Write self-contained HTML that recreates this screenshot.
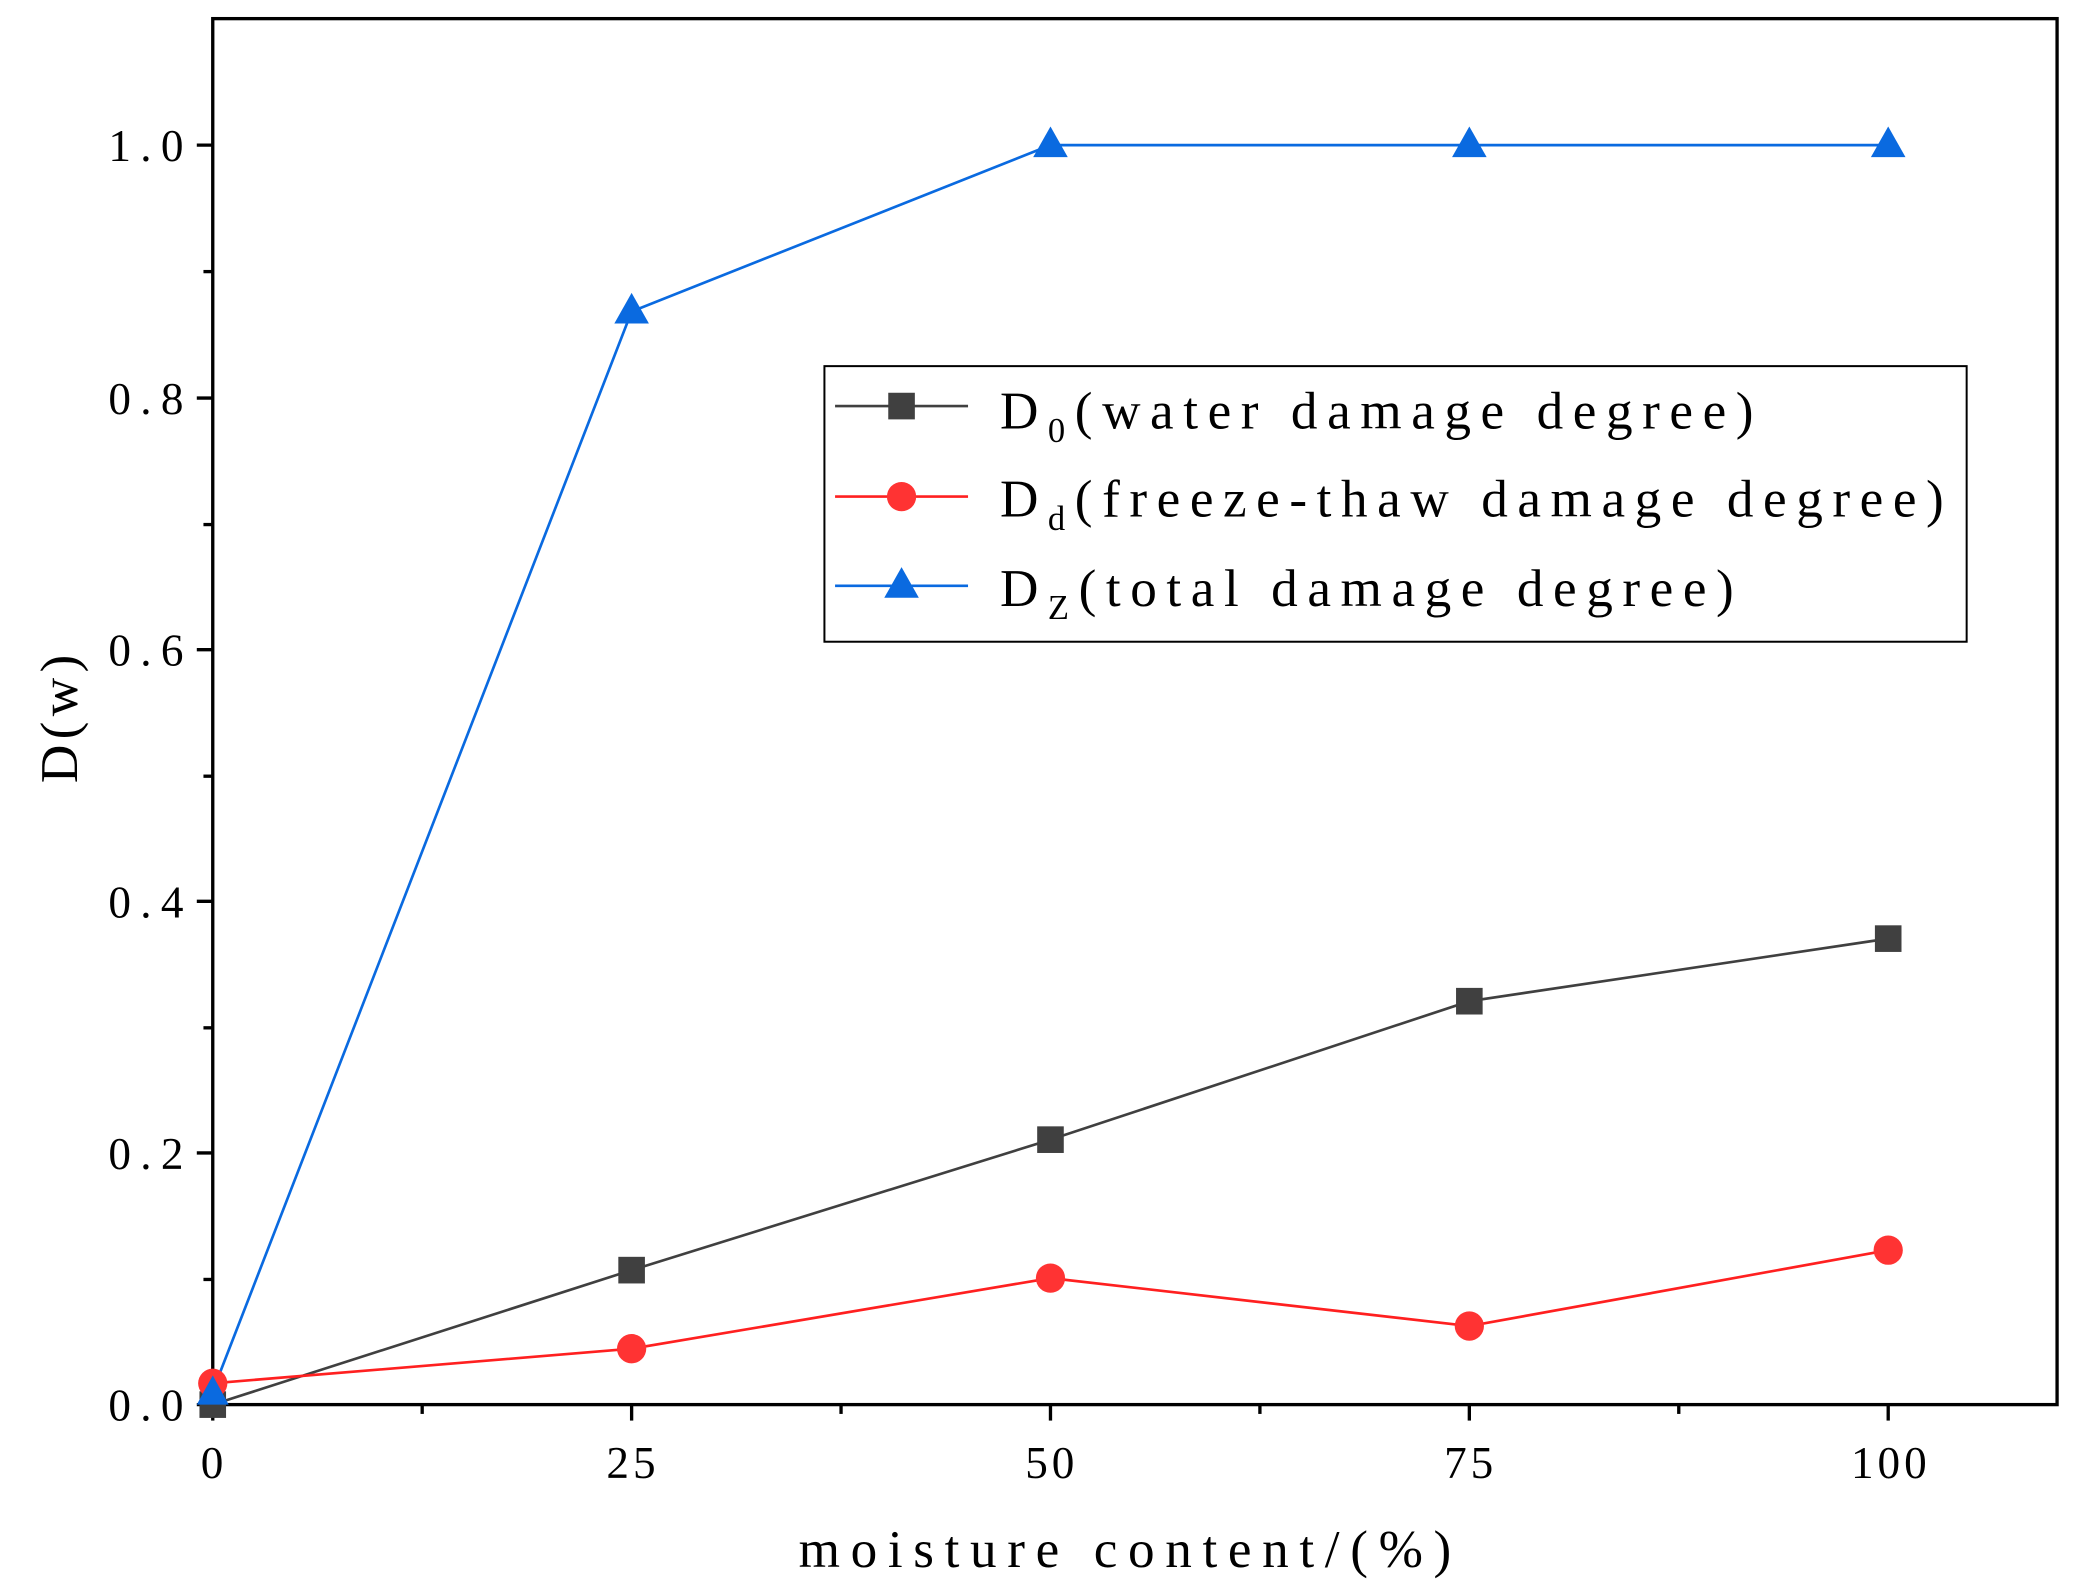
<!DOCTYPE html>
<html><head><meta charset="utf-8"><style>
html,body{margin:0;padding:0;background:#fff;}
svg{display:block;}
text{font-family:"Liberation Serif","Noto Serif CJK SC",serif;fill:#000;}
</style></head><body>
<svg width="2085" height="1591" viewBox="0 0 1568 1195" preserveAspectRatio="none" xmlns="http://www.w3.org/2000/svg">
<rect width="1568" height="1195" fill="#fff"/>
<g stroke="#000" stroke-width="2.5">
<line x1="148" y1="1055" x2="160" y2="1055"/><line x1="148" y1="866" x2="160" y2="866"/><line x1="148" y1="677" x2="160" y2="677"/><line x1="148" y1="488" x2="160" y2="488"/><line x1="148" y1="299" x2="160" y2="299"/><line x1="148" y1="109" x2="160" y2="109"/>
<line x1="153" y1="961" x2="160" y2="961"/><line x1="153" y1="772" x2="160" y2="772"/><line x1="153" y1="583" x2="160" y2="583"/><line x1="153" y1="394" x2="160" y2="394"/><line x1="153" y1="204" x2="160" y2="204"/>
<line x1="160" y1="1055" x2="160" y2="1067"/><line x1="475" y1="1055" x2="475" y2="1067"/><line x1="790" y1="1055" x2="790" y2="1067"/><line x1="1105" y1="1055" x2="1105" y2="1067"/><line x1="1420" y1="1055" x2="1420" y2="1067"/>
<line x1="317.5" y1="1055" x2="317.5" y2="1062"/><line x1="632.5" y1="1055" x2="632.5" y2="1062"/><line x1="947.5" y1="1055" x2="947.5" y2="1062"/><line x1="1262.5" y1="1055" x2="1262.5" y2="1062"/>
</g>
<rect x="160" y="14" width="1387" height="1041" fill="none" stroke="#000" stroke-width="2.5"/>
<g font-size="34" text-anchor="end" letter-spacing="7">
<text x="145" y="1067">0.0</text><text x="145" y="878">0.2</text><text x="145" y="689">0.4</text><text x="145" y="500">0.6</text><text x="145" y="311">0.8</text><text x="145" y="121">1.0</text>
</g>
<g font-size="34" text-anchor="middle" letter-spacing="3">
<text x="161" y="1110">0</text><text x="476" y="1110">25</text><text x="791" y="1110">50</text><text x="1106" y="1110">75</text><text x="1422" y="1110">100</text>
</g>
<text x="850" y="1177" font-size="40" text-anchor="middle" letter-spacing="8">moisture content/(%)</text>
<text transform="translate(58,538) rotate(-90)" font-size="40" text-anchor="middle" letter-spacing="4">D(w)</text>
<polyline points="160,1055 475,954 790,856 1105,752 1420,705" fill="none" stroke="#404040" stroke-width="2"/>
<polyline points="160,1039 475,1013 790,960 1105,996 1420,939" fill="none" stroke="#ff2020" stroke-width="2"/>
<polyline points="160,1045 475,234 790,109 1105,109 1420,109" fill="none" stroke="#0a6ae0" stroke-width="2"/>
<g fill="#404040">
<rect x="150" y="1045" width="20" height="20"/><rect x="465" y="944" width="20" height="20"/><rect x="780" y="846" width="20" height="20"/><rect x="1095" y="742" width="20" height="20"/><rect x="1410" y="695" width="20" height="20"/>
</g>
<g fill="#ff3333">
<circle cx="160" cy="1039" r="11"/><circle cx="475" cy="1013" r="11"/><circle cx="790" cy="960" r="11"/><circle cx="1105" cy="996" r="11"/><circle cx="1420" cy="939" r="11"/>
</g>
<g fill="#0a6ae0">
<polygon points="160,1033 148,1055 172,1055"/><polygon points="475,220 462,243 488,243"/><polygon points="790,95 777,118 803,118"/><polygon points="1105,95 1092,118 1118,118"/><polygon points="1420,95 1407,118 1433,118"/>
</g>
<rect x="620" y="275" width="859" height="207" fill="#fff" stroke="#000" stroke-width="1.5"/>
<line x1="628" y1="305" x2="728" y2="305" stroke="#404040" stroke-width="2"/><rect x="668" y="295" width="20" height="20" fill="#404040"/>
<line x1="628" y1="373" x2="728" y2="373" stroke="#ff2020" stroke-width="2"/><circle cx="678" cy="373" r="11" fill="#ff3333"/>
<line x1="628" y1="440" x2="728" y2="440" stroke="#0a6ae0" stroke-width="2"/><polygon points="678,426 665,449 691,449" fill="#0a6ae0"/>
<g font-size="40" letter-spacing="7.2">
<text x="752" y="322">D<tspan font-size="26" dy="10">0</tspan><tspan dy="-10">(water damage degree)</tspan></text>
<text x="752" y="388">D<tspan font-size="26" dy="10">d</tspan><tspan dy="-10">(freeze-thaw damage degree)</tspan></text>
<text x="752" y="455">D<tspan font-size="26" dy="10">Z</tspan><tspan dy="-10">(total damage degree)</tspan></text>
</g>
</svg>
</body></html>
